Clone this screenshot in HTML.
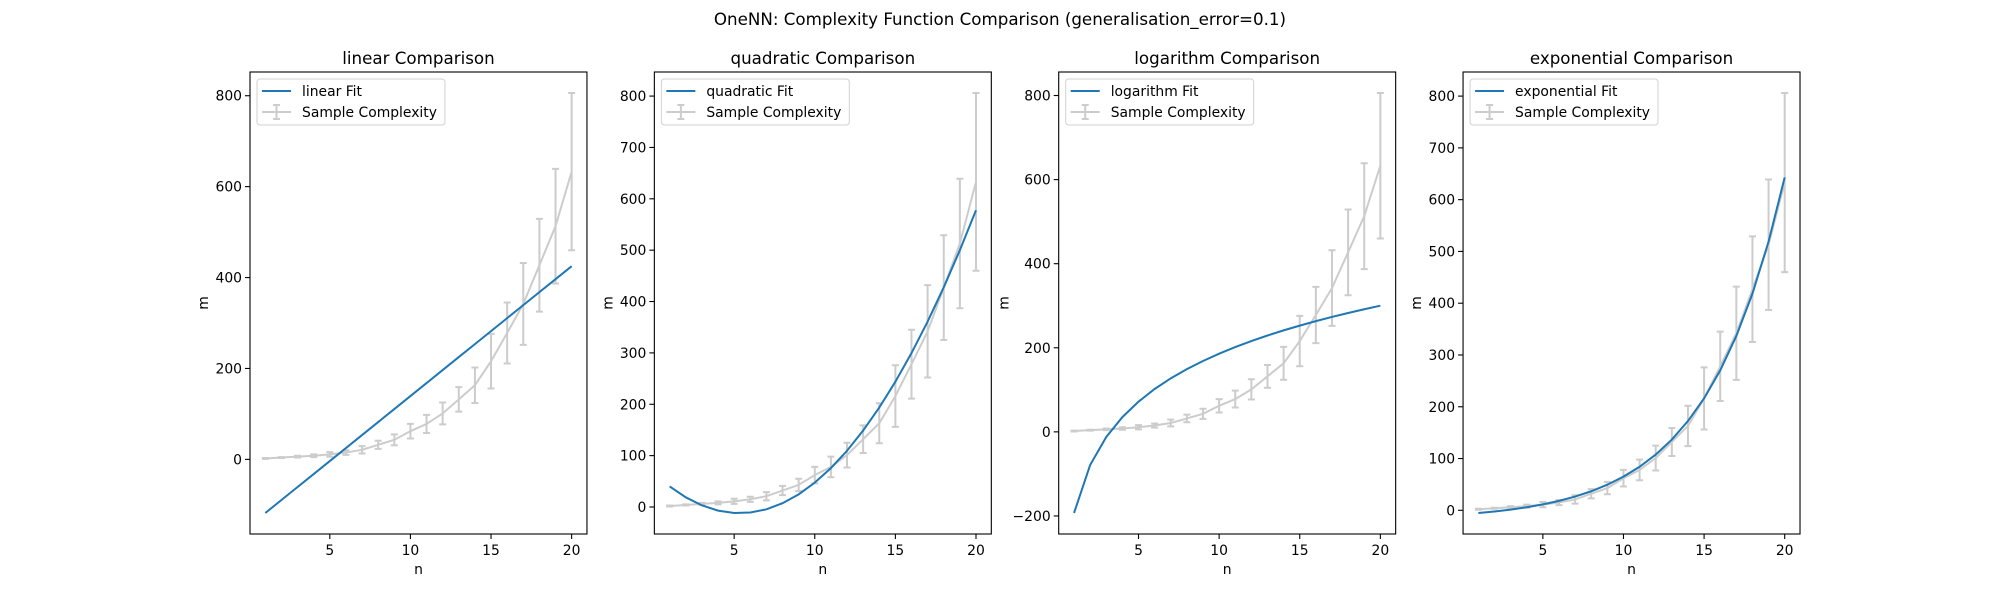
<!DOCTYPE html>
<html><head><meta charset="utf-8">
<style>
html,body{margin:0;padding:0;background:#fff;}
svg{display:block;font-family:"DejaVu Sans","Liberation Sans",sans-serif;}
</style></head>
<body>
<svg id="fig" width="2000" height="600" viewBox="0 0 2000 600" xmlns="http://www.w3.org/2000/svg">
<rect width="2000" height="600" fill="#fff"/>
<text x="1000" y="25" text-anchor="middle" font-size="16.7" fill="#000">OneNN: Complexity Function Comparison (generalisation_error=0.1)</text>
</svg>
<script>
const nValues = [1,2,3,4,5,6,7,8,9,10,11,12,13,14,15,16,17,18,19,20];
const sampleMean = [2,4,6,8,11,15,21,32,43,62,78,101,132,163,216,278,342,427,513,633];
const sampleErr = [1,1,2,3,5,5,8,9,12,16,20,24,27,39,60,67,90,102,126,173];
const linearFit = [-118,-89.4,-60.8,-32.3,-3.7,24.9,53.5,82.1,110.6,139.2,167.8,196.4,225,253.5,282.1,310.7,339.3,367.9,396.4,425];
const quadraticFit = [40,18.8,3.2,-7,-11.7,-10.8,-4.5,7.3,24.6,47.4,75.7,109.5,148.8,193.6,243.9,299.7,361,427.7,500,577.8];
const logarithmFit = [-193,-78.9,-12.1,35.1,71.8,102,127.3,149.2,168.6,186,201.7,216,229.2,241.4,252.7,263.4,273.3,282.7,291.6,300.1];
const exponentialFit = [-5.2,-2.2,1.4,5.9,11.4,18.2,26.5,36.8,49.4,65,84.1,107.7,136.6,172.4,216.2,270.2,336.7,418.5,519.2,643];
const panelNames = ["linear","quadratic","logarithm","exponential"];
const xTicks = [5,10,15,20];
const yTicks1 = [0,200,400,600,800];
const yTicks2 = [0,100,200,300,400,500,600,700,800];
const yTicks3 = [-200,0,200,400,600,800];
const yTicks4 = [0,100,200,300,400,500,600,700,800];

const fits = [linearFit, quadraticFit, logarithmFit, exponentialFit];
const yTickSets = [yTicks1, yTicks2, yTicks3, yTicks4];
const NS = "http://www.w3.org/2000/svg";
const svg = document.getElementById('fig');
function mk(tag, attrs, parent){const e=document.createElementNS(NS,tag);for(const k in attrs)e.setAttribute(k,attrs[k]);(parent||svg).appendChild(e);return e;}

const AX_W = 336.96, AX_TOP = 72, AX_BOT = 534;
panelNames.forEach((name, p) => {
  const fit = fits[p];
  const left = 250 + p * AX_W * 1.2;
  const g = mk('g', {});
  
  
  let lo = Infinity, hi = -Infinity;
  nValues.forEach((n, i) => {
    lo = Math.min(lo, sampleMean[i] - sampleErr[i], fit[i]);
    hi = Math.max(hi, sampleMean[i] + sampleErr[i], fit[i]);
  });
  const pad = (hi - lo) * 0.05; lo -= pad; hi += pad;
  const xmin = nValues[0], xmax = nValues[nValues.length - 1];
  const xpad = (xmax - xmin) * 0.05;
  const sx = v => left + (v - (xmin - xpad)) / ((xmax + xpad) - (xmin - xpad)) * AX_W;
  const sy = v => AX_BOT - (v - lo) / (hi - lo) * (AX_BOT - AX_TOP);

  const sp = nValues.map((n, i) => sx(n).toFixed(2) + ',' + sy(sampleMean[i]).toFixed(2)).join(' ');
  const sl = mk('polyline', {points: sp, fill: 'none', stroke: '#cccccc', 'stroke-width': 2}, g);
  
  
  nValues.forEach((n, i) => {
    const x = sx(n), y1 = sy(sampleMean[i] - sampleErr[i]), y2 = sy(sampleMean[i] + sampleErr[i]);
    const eb = mk('path', {d: `M${x},${y1}V${y2}M${x-3.5},${y1}H${x+3.5}M${x-3.5},${y2}H${x+3.5}`, stroke: '#cccccc', 'stroke-width': 2, fill: 'none'}, g);
    
    
  });
  const fp = nValues.map((n, i) => sx(n).toFixed(2) + ',' + sy(fit[i]).toFixed(2)).join(' ');
  const fl = mk('polyline', {points: fp, fill: 'none', stroke: '#1f77b4', 'stroke-width': 2}, g);
  
  

  const fr = mk('rect', {x: left, y: AX_TOP, width: AX_W, height: AX_BOT - AX_TOP, fill: 'none', stroke: '#000', 'stroke-width': 1.1}, g);
  
  
  xTicks.forEach(t => {
    const x = sx(t);
    mk('line', {x1: x, x2: x, y1: AX_BOT, y2: AX_BOT + 5, stroke: '#000', 'stroke-width': 1.1}, g);
    const tl = mk('text', {x: x, y: AX_BOT + 21, 'text-anchor': 'middle', 'font-size': 13.9}, g);
    tl.textContent = t;
    
    
  });
  yTickSets[p].forEach(t => {
    const y = sy(t);
    mk('line', {x1: left - 5, x2: left, y1: y, y2: y, stroke: '#000', 'stroke-width': 1.1}, g);
    const tl = mk('text', {x: left - 8, y: y + 5, 'text-anchor': 'end', 'font-size': 13.9}, g);
    tl.textContent = t < 0 ? '\u2212' + (-t) : t;
    
    
  });
  const xl = mk('text', {x: left + AX_W / 2, y: 574, 'text-anchor': 'middle', 'font-size': 13.9}, g);
  xl.textContent = 'n';
  
  
  const yw = p === 2 ? 50 : 42;
  const yl = mk('text', {x: 0, y: 0, 'text-anchor': 'middle', 'font-size': 13.9, transform: `translate(${left - yw},${(AX_TOP + AX_BOT) / 2}) rotate(-90)`}, g);
  yl.textContent = 'm';
  
  
  const tt = mk('text', {x: left + AX_W / 2, y: 64, 'text-anchor': 'middle', 'font-size': 16.7}, g);
  tt.textContent = name + ' Comparison';
  
  

  const lg = mk('g', {}, g);
  
  
  mk('rect', {x: left + 7, y: 79, width: 185, height: 46, rx: 3, fill: '#fff', 'fill-opacity': 0.8, stroke: '#d0d0d0', 'stroke-width': 1}, lg);
  mk('line', {x1: left + 12, x2: left + 41, y1: 91, y2: 91, stroke: '#1f77b4', 'stroke-width': 2}, lg);
  const t1 = mk('text', {x: left + 52, y: 96, 'font-size': 13.9}, lg);
  t1.textContent = name + ' Fit';
  
  
  mk('path', {d: `M${left+12},112H${left+41}M${left+26.5},105V119M${left+23},105H${left+30}M${left+23},119H${left+30}`, stroke: '#cccccc', 'stroke-width': 2, fill: 'none'}, lg);
  const t2 = mk('text', {x: left + 52, y: 117, 'font-size': 13.9}, lg);
  t2.textContent = 'Sample Complexity';
  
  
  const bb = Math.max(t1.getBBox().width, t2.getBBox().width);
  lg.firstChild.setAttribute('width', bb + 52 - 7 + 8);
});
</script>
</body></html>
